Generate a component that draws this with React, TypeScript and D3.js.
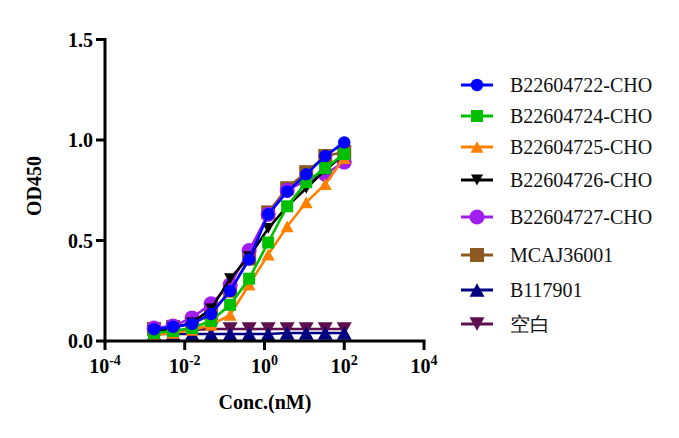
import React from "react";
import * as d3 from "d3";

// concentrations (nM), 3-fold dilution
const conc = [0.001694, 0.00508, 0.01524, 0.04572, 0.1372, 0.4115, 1.235, 3.704, 11.11, 33.33, 100];

const names = [
  "B22604722-CHO",
  "B22604724-CHO",
  "B22604725-CHO",
  "B22604726-CHO",
  "B22604727-CHO",
  "MCAJ36001",
  "B117901",
  "空白",
];

const s722 = [0.058, 0.071, 0.085, 0.134, 0.249, 0.406, 0.63, 0.743, 0.829, 0.92, 0.988];
const s724 = [0.04, 0.05, 0.065, 0.1, 0.18, 0.31, 0.49, 0.67, 0.79, 0.86, 0.93];
const s725 = [0.03, 0.04, 0.055, 0.08, 0.13, 0.28, 0.43, 0.57, 0.69, 0.78, 0.91];
const s726 = [0.05, 0.065, 0.09, 0.16, 0.31, 0.42, 0.56, 0.67, 0.76, 0.85, 0.93];
const s727 = [0.065, 0.075, 0.115, 0.185, 0.28, 0.45, 0.63, 0.75, 0.8, 0.83, 0.89];
const sMCAJ = [0.06, 0.07, 0.09, 0.14, 0.25, 0.41, 0.64, 0.76, 0.84, 0.92, 0.94];
const sB117901 = [0.035, 0.035, 0.035, 0.035, 0.035, 0.035, 0.035, 0.04, 0.04, 0.04, 0.04];
const sBlank = [0.055, 0.055, 0.055, 0.06, 0.06, 0.06, 0.06, 0.06, 0.06, 0.06, 0.06];

const seriesValues = [s722, s724, s725, s726, s727, sMCAJ, sB117901, sBlank];

const colors = ["#0000ff", "#00c000", "#ff8000", "#000000", "#a01ef0", "#8b5a23", "#000080", "#5e0f4e"];
const shapes = ["circle", "square", "up", "down", "circle", "square", "up", "down"];
const markerSize = [12.5, 12, 13, 12, 15, 14, 15, 15];

const yTicks = [0, 0.5, 1, 1.5];
const xTickExp = [-4, -2, 0, 2, 4];

const FONT = "Liberation Serif, Times New Roman, serif";

function markerPath(shape: string, d: number) {
  if (shape === "circle") return d3.symbol(d3.symbolCircle, (Math.PI * d * d) / 4)()!;
  if (shape === "square") return d3.symbol(d3.symbolSquare, d * d)()!;
  const h = d * 0.9;
  const s = shape === "up" ? 1 : -1;
  return `M0,${(-s * h) / 2}L${d / 2},${(s * h) / 2}L${-d / 2},${(s * h) / 2}Z`;
}

const App: React.FC = () => {
  const width = 679;
  const height = 438;

  const x = d3.scaleLog().domain([1e-4, 1e4]).range([105, 424]);
  const y = d3.scaleLinear().domain([0, 1.5]).range([341, 39.5]);

  const line = d3
    .line<number>()
    .x((_, i) => x(conc[i]))
    .y((d) => y(d));

  const legendRows = [85, 116, 147, 180, 217, 255, 290, 324];
  const order = d3.range(names.length).reverse(); // first series drawn on top

  return (
    <div style={{ position: "fixed", left: 0, top: 0 }}>
      <svg width={width} height={height} style={{ background: "#fff", display: "block", fontFamily: FONT }}>
        {/* series */}
        {order.map((k) => (
          <g key={names[k]}>
            <path d={line(seriesValues[k]) || ""} fill="none" stroke={colors[k]} strokeWidth={2.6} />
            {seriesValues[k].map((v, i) => (
              <path
                key={i}
                transform={`translate(${x(conc[i])},${y(v)})`}
                d={markerPath(shapes[k], markerSize[k])}
                fill={colors[k]}
              />
            ))}
          </g>
        ))}

        {/* Y Axis */}
        <g>
          <line x1={105} x2={105} y1={y(1.5) - 1.5} y2={y(0) + 1.5} stroke="#000" strokeWidth={3} />
          {yTicks.map((t) => (
            <g key={t}>
              <line x1={96} x2={105} y1={y(t)} y2={y(t)} stroke="#000" strokeWidth={3} />
              <text
                x={93}
                y={y(t)}
                textAnchor="end"
                dominantBaseline="central"
                fontSize={20}
                fontWeight="bold"
              >
                {t.toFixed(1)}
              </text>
            </g>
          ))}
          <text
            transform={`translate(34,186) rotate(-90)`}
            textAnchor="middle"
            dominantBaseline="central"
            fontSize={20}
            fontWeight="bold"
          >
            OD450
          </text>
        </g>

        {/* X Axis */}
        <g>
          <line x1={103.5} x2={425.5} y1={341} y2={341} stroke="#000" strokeWidth={3} />
          {xTickExp.map((e) => (
            <g key={e}>
              <line x1={x(10 ** e)} x2={x(10 ** e)} y1={341} y2={350} stroke="#000" strokeWidth={3} />
              <text x={x(10 ** e)} y={373} textAnchor="middle" fontSize={20} fontWeight="bold">
                10
                <tspan fontSize={14} dy={-8}>
                  {e < 0 ? `-${-e}` : `${e}`}
                </tspan>
              </text>
            </g>
          ))}
          <text x={265} y={409} textAnchor="middle" fontSize={20} fontWeight="bold">
            Conc.(nM)
          </text>
        </g>

        {/* Legend */}
        {names.map((n, k) => (
          <g key={n} transform={`translate(0,${legendRows[k]})`}>
            <line x1={461} x2={493} y1={0} y2={0} stroke={colors[k]} strokeWidth={3} />
            <path transform="translate(477,0)" d={markerPath(shapes[k], markerSize[k])} fill={colors[k]} />
            <text x={510} y={0} dominantBaseline="central" fontSize={20} fill="#111">
              {n}
            </text>
          </g>
        ))}
      </svg>
    </div>
  );
};

export default App;
